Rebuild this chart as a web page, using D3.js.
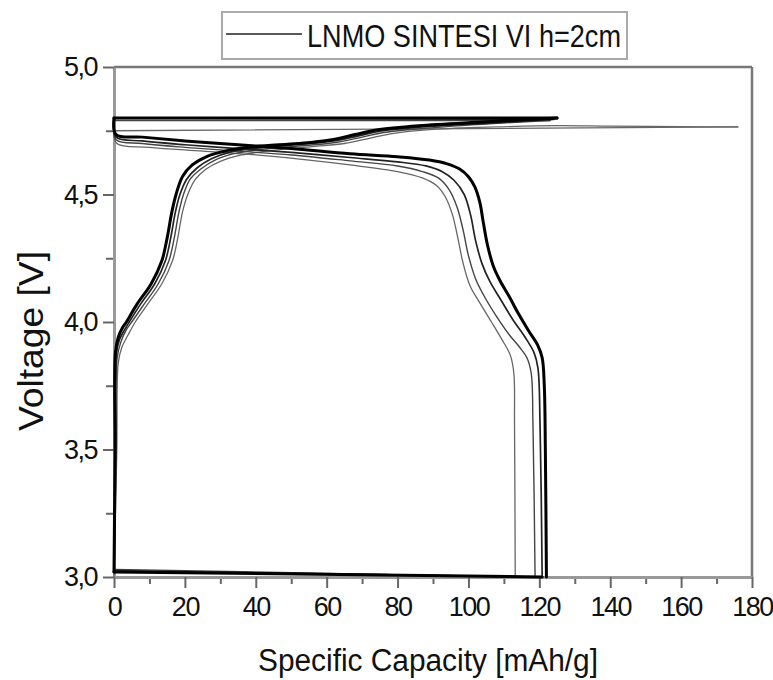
<!DOCTYPE html>
<meta charset="utf-8">
<style>
  body { margin: 0; background: #fff; }
  text { font-family: "Liberation Sans", Arial, sans-serif; fill: #111; }
</style>
<script src="https://d3js.org/d3.v7.min.js"></script>
<div id="chart"></div>
<script>
// axis ticks
const xTicks = [0, 20, 40, 60, 80, 100, 120, 140, 160, 180];
const xMinor = [10, 30, 50, 70, 90, 110, 130, 150, 170];
const yTicks = [3.0, 3.5, 4.0, 4.5, 5.0];
const yMinor = [3.25, 3.75, 4.25, 4.75];
const legendLabel = "LNMO SINTESI VI h=2cm";

// [capacity mAh/g, voltage V]
const c1Charge = [[0,3.0],[0.8,3.5],[1.2,3.84],[2.2,3.9],[4,3.95],[6,4.0],[9.5,4.07],[13.5,4.15],[16.5,4.24],[18,4.33],[19.3,4.43],[20.8,4.5],[23,4.56],[26,4.6],[30,4.63],[36,4.655],[44,4.672],[56,4.688],[65,4.7],[72,4.72],[78,4.738],[90,4.755],[108,4.765],[125,4.77],[140,4.768],[160,4.766],[176,4.765]];
const c1Dis = [[0,4.75],[0.8,4.7],[10,4.685],[25,4.67],[40,4.655],[55,4.635],[66.6,4.616],[80,4.59],[87,4.565],[91,4.535],[93.5,4.49],[95.5,4.42],[97,4.33],[98.5,4.23],[100.5,4.14],[103,4.08],[106.5,4.0],[109.5,3.93],[111.8,3.87],[112.8,3.8],[113,3.6],[113.2,3.0]];

const c2Charge = [[0,3.03],[0.6,3.5],[0.9,3.86],[1.9,3.92],[3.5,3.97],[5,4.0],[8.5,4.07],[12.5,4.15],[15.5,4.24],[17,4.33],[18.3,4.43],[19.6,4.5],[21.5,4.56],[24.5,4.6],[28.5,4.635],[34.5,4.662],[42,4.678],[54,4.692],[63,4.705],[70,4.725],[76,4.743],[88,4.76],[107,4.778],[123,4.79]];
const c2Dis = [[0,4.79],[0.6,4.715],[8,4.7],[20,4.685],[35,4.67],[50,4.655],[66.6,4.632],[80,4.612],[87,4.59],[91.5,4.565],[94.5,4.52],[96.8,4.45],[98.5,4.36],[100,4.26],[102,4.17],[104.5,4.1],[108,4.02],[111.5,3.95],[114.5,3.9],[116.5,3.86],[117.7,3.8],[118.2,3.6],[118.8,3.0]];

const c3Charge = [[0,3.025],[0.4,3.5],[0.6,3.87],[1.5,3.93],[3,3.97],[4.3,4.0],[7.5,4.07],[11.5,4.15],[14.5,4.24],[16,4.33],[17.3,4.43],[18.6,4.5],[20.5,4.56],[23.5,4.605],[27.5,4.64],[33,4.667],[41,4.683],[53,4.697],[62,4.71],[69,4.73],[75,4.748],[87,4.765],[106,4.78],[124,4.795]];
const c3Dis = [[0,4.8],[0.6,4.725],[8,4.71],[20,4.695],[35,4.68],[50,4.665],[66.6,4.645],[80,4.628],[88,4.612],[92.5,4.59],[96,4.555],[98.8,4.5],[100.6,4.42],[102,4.32],[103.8,4.23],[106,4.16],[109,4.09],[112.5,4.01],[116,3.94],[118.5,3.88],[119.6,3.82],[120.2,3.6],[120.8,3.0]];

const c4Charge = [[0,3.02],[0.3,3.5],[0.4,3.88],[1.2,3.94],[2.5,3.98],[3.5,4.0],[6.5,4.07],[10.5,4.15],[13.5,4.24],[15,4.33],[16.3,4.43],[17.5,4.5],[19.3,4.57],[22,4.615],[26,4.648],[31.9,4.672],[40,4.688],[52,4.7],[61,4.714],[68,4.735],[74,4.753],[86,4.77],[105,4.785],[125,4.8]];
const c4Dis = [[0,4.8],[0.6,4.735],[8,4.725],[20,4.71],[35,4.695],[50,4.68],[66.6,4.66],[80,4.648],[89,4.635],[94,4.62],[97.5,4.6],[100,4.57],[101.8,4.53],[103.2,4.47],[104.2,4.39],[105.4,4.3],[107,4.22],[109,4.16],[111.5,4.1],[114,4.035],[117,3.965],[119.5,3.91],[120.8,3.86],[121.4,3.75],[121.7,3.5],[122,3.0]];

const cycles = [
  {chg: c1Charge, dis: c1Dis, color: "#666", w: 1.3},
  {chg: c2Charge, dis: c2Dis, color: "#444", w: 1.4},
  {chg: c3Charge, dis: c3Dis, color: "#222", w: 1.7},
  {chg: c4Charge, dis: c4Dis, color: "#000", w: 3}
];

const margin = {top: 67, right: 21, bottom: 103, left: 114},
    width = 773 - margin.left - margin.right,
    height = 680 - margin.top - margin.bottom;

const svg = d3.select("#chart")
  .append("svg")
    .attr("width", 773)
    .attr("height", 680)
  .append("g")
    .attr("transform", `translate(${margin.left},${margin.top})`);

const x = d3.scaleLinear().domain([0, 180]).range([0, width]);
const y = d3.scaleLinear().domain([3, 5]).range([height, 0]);

const comma = d3.formatLocale({decimal: ",", thousands: ".", grouping: [3], currency: ["", ""]}).format(".1f");

// frame (top and right)
svg.append("line").attr("x1", 0).attr("x2", width).attr("y1", 0).attr("y2", 0)
  .attr("stroke", "#777").attr("stroke-width", 2.5);
svg.append("line").attr("x1", width).attr("x2", width).attr("y1", 0).attr("y2", height)
  .attr("stroke", "#777").attr("stroke-width", 2.5);

// minor ticks
svg.append("g")
  .attr("transform", `translate(0,${height})`)
  .call(d3.axisBottom(x).tickValues(xMinor).tickSize(7).tickFormat(""))
  .call(g => g.select(".domain").remove())
  .call(g => g.selectAll("line").attr("stroke", "#666").attr("stroke-width", 2));
svg.append("g")
  .call(d3.axisLeft(y).tickValues(yMinor).tickSize(8).tickFormat(""))
  .call(g => g.select(".domain").remove())
  .call(g => g.selectAll("line").attr("stroke", "#666").attr("stroke-width", 2));

// x axis
svg.append("g")
  .attr("transform", `translate(0,${height})`)
  .call(d3.axisBottom(x).tickValues(xTicks).tickSize(11).tickSizeOuter(0).tickPadding(9))
  .call(g => g.select(".domain").attr("stroke", "#999").attr("stroke-width", 3))
  .call(g => g.selectAll("line").attr("stroke", "#666").attr("stroke-width", 2))
  .call(g => g.selectAll("text")
    .attr("font-size", "27px").attr("letter-spacing", "-1.5px").attr("fill", "#111"));

// y axis
svg.append("g")
  .call(d3.axisLeft(y).tickValues(yTicks).tickSize(11).tickSizeOuter(0).tickPadding(6).tickFormat(comma))
  .call(g => g.select(".domain").attr("stroke", "#999").attr("stroke-width", 3))
  .call(g => g.selectAll("line").attr("stroke", "#666").attr("stroke-width", 2))
  .call(g => g.selectAll("text")
    .attr("font-size", "27px").attr("letter-spacing", "-1.5px").attr("fill", "#111"));

// curves: smooth charge / discharge, straight jumps between them
const smooth = d3.line().x(d => x(d[0])).y(d => y(d[1])).curve(d3.curveCatmullRom.alpha(0.5));
const straight = d3.line().x(d => x(d[0])).y(d => y(d[1]));
const segs = [];
cycles.forEach((c, i) => {
  if (i > 0) {
    const prev = cycles[i - 1].dis;
    segs.push({pts: [prev[prev.length - 1], c.chg[0]], lineFn: straight, color: c.color, w: c.w});
  }
  segs.push({pts: c.chg, lineFn: smooth, color: c.color, w: c.w});
  segs.push({pts: [c.chg[c.chg.length - 1], c.dis[0]], lineFn: straight, color: c.color, w: c.w});
  segs.push({pts: c.dis, lineFn: smooth, color: c.color, w: c.w});
});
svg.append("g")
  .selectAll("path")
  .data(segs)
  .join("path")
    .attr("d", d => d.lineFn(d.pts))
    .attr("fill", "none")
    .attr("stroke", d => d.color)
    .attr("stroke-width", d => d.w)
    .attr("stroke-linejoin", "round")
    .attr("stroke-linecap", "round");

// axis titles
svg.append("text")
  .attr("x", 144).attr("y", height + 94)
  .attr("font-size", "31px")
  .attr("textLength", 340).attr("lengthAdjust", "spacingAndGlyphs")
  .text("Specific Capacity [mAh/g]");
svg.append("text")
  .attr("transform", `translate(${43 - margin.left},${341 - margin.top}) rotate(-90)`)
  .attr("text-anchor", "middle")
  .attr("font-size", "35px")
  .attr("textLength", 180).attr("lengthAdjust", "spacingAndGlyphs")
  .text("Voltage [V]");

// legend
const leg = d3.select("svg").append("g");
leg.append("rect").attr("x", 222).attr("y", 12).attr("width", 405).attr("height", 47)
  .attr("fill", "#fff").attr("stroke", "#aaa").attr("stroke-width", 2);
leg.append("line").attr("x1", 226).attr("x2", 302).attr("y1", 34).attr("y2", 34)
  .attr("stroke", "#222").attr("stroke-width", 1.5);
leg.append("text").attr("x", 307).attr("y", 47)
  .attr("font-size", "31px")
  .attr("textLength", 314).attr("lengthAdjust", "spacingAndGlyphs")
  .text(legendLabel);
</script>
